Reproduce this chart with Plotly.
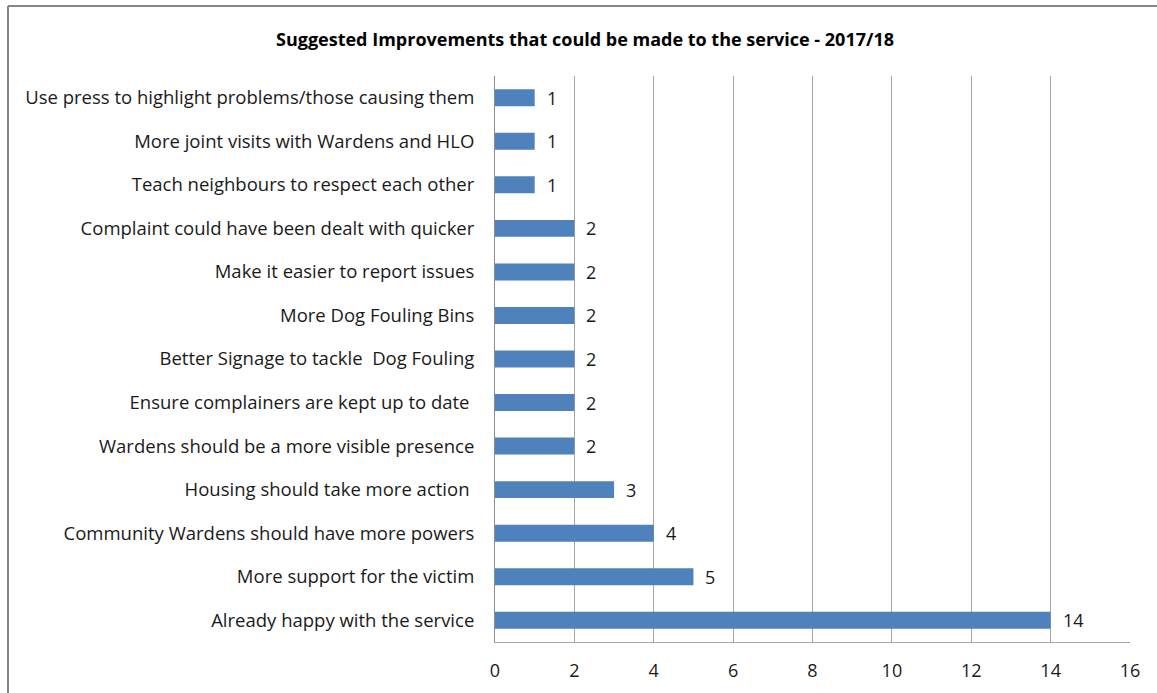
import plotly.graph_objects as go

# Suggestions, listed bottom-to-top as they appear on the category axis
categories = [
    "Already happy with the service",
    "More support for the victim",
    "Community Wardens should have more powers",
    "Housing should take more action ",
    "Wardens should be a more visible presence",
    "Ensure complainers are kept up to date ",
    "Better Signage to tackle  Dog Fouling",
    "More Dog Fouling Bins",
    "Make it easier to report issues",
    "Complaint could have been dealt with quicker",
    "Teach neighbours to respect each other",
    "More joint visits with Wardens and HLO",
    "Use press to highlight problems/those causing them",
]
counts = [14, 5, 4, 3, 2, 2, 2, 2, 2, 2, 1, 1, 1]
x_ticks = [0, 2, 4, 6, 8, 10, 12, 14, 16]

FONT = "Open Sans, sans-serif"
TEXT = "#1a1a1a"
SIZE = 18.5

fig = go.Figure(
    go.Bar(
        x=counts,
        y=categories,
        orientation="h",
        marker=dict(color="#4F81BD", line=dict(width=0)),
        width=0.39,
        hoverinfo="x+y",
    )
)

# value labels to the right of each bar
value_labels = [
    dict(
        x=v, y=c, xref="x", yref="y",
        text=str(v), showarrow=False,
        xanchor="left", yanchor="middle", xshift=10,
        font=dict(family=FONT, size=18, color=TEXT),
    )
    for c, v in zip(categories, counts)
]

fig.update_layout(
    width=1157,
    height=693,
    margin=dict(l=495, r=27, t=76, b=51),
    paper_bgcolor="white",
    plot_bgcolor="white",
    showlegend=False,
    font=dict(family=FONT, size=SIZE, color=TEXT),
    xaxis=dict(
        range=[0, 16],
        tickvals=x_ticks,
        showgrid=True,
        gridcolor="#A6A6A6",
        gridwidth=1,
        zeroline=False,
        showline=True,
        linecolor="#A6A6A6",
        linewidth=1,
        ticks="",
        ticklabelstandoff=12,
        tickfont=dict(family=FONT, size=18, color=TEXT),
        fixedrange=True,
    ),
    yaxis=dict(
        type="category",
        categoryorder="array",
        categoryarray=categories,
        range=[-0.5, len(categories) - 0.5],
        showgrid=False,
        zeroline=False,
        showline=True,
        linecolor="#8C8C8C",
        linewidth=1,
        ticks="",
        ticklabelstandoff=16,
        tickfont=dict(family=FONT, size=SIZE, color=TEXT),
        fixedrange=True,
    ),
    annotations=value_labels + [
        dict(
            text="<b>Suggested Improvements that could be made to the service - 2017/18</b>",
            xref="paper", yref="paper",
            x=(585 - 495) / 635, y=1 + (76 - 39) / 566,
            xanchor="center", yanchor="middle",
            showarrow=False,
            font=dict(family=FONT, size=18, color="#000000"),
        )
    ],
    shapes=[
        # chart frame (left and top edges)
        dict(type="line", xref="paper", yref="paper",
             x0=(8 - 495) / 635, x1=(8 - 495) / 635,
             y0=1 + (76 - 6) / 566, y1=-0.2,
             line=dict(color="#868686", width=2)),
        dict(type="line", xref="paper", yref="paper",
             x0=(8 - 495) / 635, x1=1.2,
             y0=1 + (76 - 6) / 566, y1=1 + (76 - 6) / 566,
             line=dict(color="#868686", width=2)),
    ],
)

fig.write_html("out.html")
